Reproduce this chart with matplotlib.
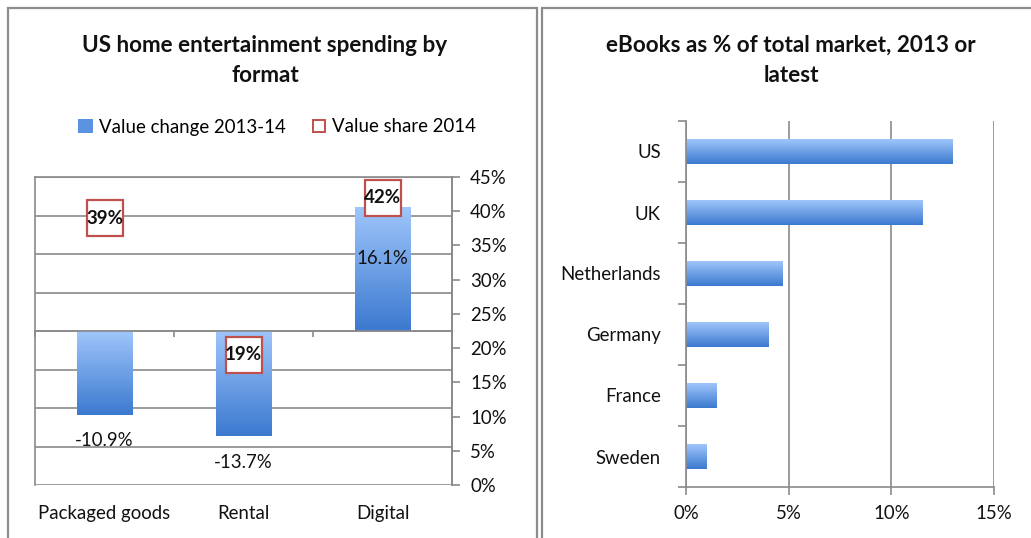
import numpy as np
import matplotlib
matplotlib.use('Agg')
import matplotlib.pyplot as plt
from matplotlib.colors import LinearSegmentedColormap
from matplotlib.patches import Rectangle, Patch
from matplotlib.lines import Line2D
from matplotlib.transforms import blended_transform_factory

plt.rcParams['font.family'] = ['Lato', 'DejaVu Sans']

# left chart data
formats = ['Packaged goods', 'Rental', 'Digital']
value_change = [-10.9, -13.7, 16.1]
value_share = [39, 19, 42]

# right chart data
countries = ['US', 'UK', 'Netherlands', 'Germany', 'France', 'Sweden']
ebook_share = [13.0, 11.5, 4.7, 4.0, 1.5, 1.0]

LIGHT = '#9fc6fb'
DARK = '#3b79cf'
GRID = '#8a8a8a'
RED = '#c0504d'
TXT = '#111111'
FS = 13.4

cmap = LinearSegmentedColormap.from_list('bluegrad', [LIGHT, DARK])


def gradient_fill(ax, bars):
    # vertical gradient, light on top, dark at bottom
    grad = np.linspace(0, 1, 256).reshape(-1, 1)
    for b in bars:
        x0, y0 = b.get_x(), b.get_y()
        w, h = b.get_width(), b.get_height()
        ylo, yhi = min(y0, y0 + h), max(y0, y0 + h)
        im = ax.imshow(grad, extent=[x0, x0 + w, ylo, yhi], origin='upper',
                       aspect='auto', cmap=cmap, zorder=b.get_zorder() + 0.1)
        im.set_clip_path(b)


def two_line_title(xc, line1, line2):
    fig.text(xc, 1 - 45 / 538, line1, ha='center', va='center', fontsize=16.2,
             fontweight='bold', color=TXT)
    fig.text(xc, 1 - 75 / 538, line2, ha='center', va='center', fontsize=16.2,
             fontweight='bold', color=TXT)


fig = plt.figure(figsize=(10.31, 5.38), dpi=100)

# panel borders
fig.patches.append(Rectangle((8 / 1031, -0.05), 529 / 1031, 1.05 - 8 / 538,
                             transform=fig.transFigure, fill=False,
                             edgecolor='#8c8c8c', lw=1.6))
fig.patches.append(Rectangle((542 / 1031, -0.05), 500 / 1031, 1.05 - 8 / 538,
                             transform=fig.transFigure, fill=False,
                             edgecolor='#8c8c8c', lw=1.6))

# ---------------- left chart ----------------
ax = fig.add_axes([35 / 1031, 53 / 538, 417 / 1031, 308 / 538])
x = np.arange(len(formats))
bars = ax.bar(x, value_change, width=0.4, color=LIGHT, zorder=2)
gradient_fill(ax, bars)
ax.set_xlim(-0.5, len(formats) - 0.5)
ax.set_ylim(-20, 20)
ax.set_yticks(np.arange(-20, 21, 5))
ax.tick_params(axis='y', length=0, labelleft=False)
ax.grid(axis='y', color=GRID, lw=1.2)
ax.set_axisbelow(True)
ax.spines['bottom'].set_position(('data', 0))
ax.spines['bottom'].set_color(GRID)
ax.spines['bottom'].set_linewidth(1.2)
ax.set_xticks(np.arange(len(formats) + 1) - 0.5)
ax.tick_params(axis='x', direction='out', length=4, color=GRID, width=1.2,
               labelbottom=False)
for s in ['left', 'right', 'top']:
    ax.spines[s].set_color(GRID)
    ax.spines[s].set_linewidth(1.2)

trans = blended_transform_factory(ax.transData, ax.transAxes)
for i, name in enumerate(formats):
    ax.text(i, -0.092, name, transform=trans, ha='center', va='center',
            fontsize=FS, color=TXT)

for i, v in enumerate(value_change):
    off = -37 if v > 0 else -18.5
    ax.annotate(f'{v:.1f}%', (i, v), xytext=(0, off), textcoords='offset points',
                ha='center', va='center', fontsize=FS, color=TXT, zorder=5)

ax2 = ax.twinx()
ax2.set_ylim(0, 45)
ax2.set_yticks(np.arange(0, 46, 5))
ax2.set_yticklabels([f'{t}%' for t in range(0, 46, 5)])
ax2.tick_params(axis='y', direction='out', length=6, color=GRID, width=1.2,
                pad=7, labelsize=FS, labelcolor=TXT)
for s in ['left', 'bottom', 'top']:
    ax2.spines[s].set_visible(False)
ax2.spines['right'].set_color(GRID)
ax2.spines['right'].set_linewidth(1.2)
ax2.plot(x, value_share, 's', ms=26.5, mfc='white', mec=RED, mew=1.6, zorder=4)
for i, v in enumerate(value_share):
    ax2.text(i, v, f'{v}%', ha='center', va='center', fontsize=13.5,
             fontweight='bold', color=TXT, zorder=6)

two_line_title(265 / 1031, 'US home entertainment spending by', 'format')

handles = [Patch(facecolor='#5b93e0', edgecolor='none'),
           Line2D([], [], marker='s', ls='none', ms=9, mfc='white', mec=RED, mew=1.4)]
fig.legend(handles, ['Value change 2013-14', 'Value share 2014'],
           loc='center', bbox_to_anchor=(277 / 1031, 1 - 127 / 538), ncol=2,
           frameon=False, fontsize=FS, handlelength=0.8, handletextpad=0.3,
           columnspacing=1.4, borderaxespad=0)

# ---------------- right chart ----------------
bx = fig.add_axes([686 / 1031, 51 / 538, 308 / 1031, 366 / 538])
y = np.arange(len(countries))[::-1]
hbars = bx.barh(y, ebook_share, height=0.4, color=LIGHT, zorder=2)
gradient_fill(bx, hbars)
bx.set_xlim(0, 15)
bx.set_ylim(-0.5, len(countries) - 0.5)
bx.set_xticks([0, 5, 10, 15])
bx.set_xticklabels(['0%', '5%', '10%', '15%'])
bx.grid(axis='x', color=GRID, lw=1.2)
bx.set_axisbelow(True)
bx.set_yticks(np.arange(len(countries) + 1) - 0.5)
bx.set_yticks(y, minor=True)
bx.set_yticklabels(countries, minor=True)
bx.tick_params(axis='y', which='major', direction='out', length=6, color=GRID,
               width=1.2, labelleft=False)
bx.tick_params(axis='y', which='minor', length=0, pad=18, labelsize=FS,
               labelcolor=TXT)
bx.tick_params(axis='x', direction='out', length=6, color=GRID, width=1.2,
               pad=7, labelsize=FS, labelcolor=TXT)
for s in ['top', 'right']:
    bx.spines[s].set_visible(False)
for s in ['left', 'bottom']:
    bx.spines[s].set_color(GRID)
    bx.spines[s].set_linewidth(1.2)

two_line_title(791 / 1031, 'eBooks as % of total market, 2013 or', 'latest')

fig.savefig('out.png', dpi=100)
